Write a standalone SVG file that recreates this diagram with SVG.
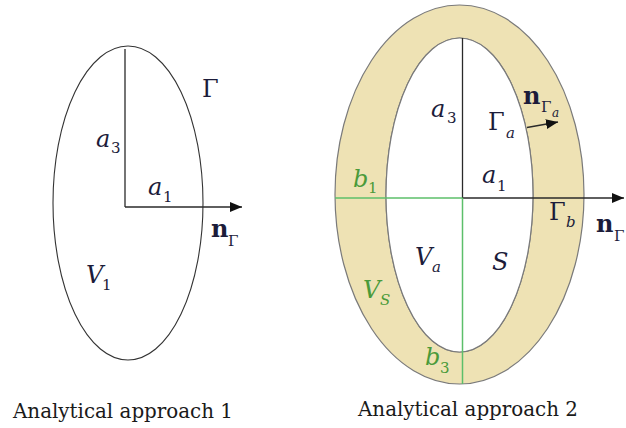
<svg xmlns="http://www.w3.org/2000/svg" width="626" height="428" viewBox="0 0 626 428">
<style>
text{font-family:'DejaVu Serif','Liberation Serif',serif}
.m{fill:#1c1c3a}
.i{font-style:italic}
.b{font-weight:bold}
.big{font-size:24px}
.sub{font-size:15px}
.ssub{font-size:12px}
.g{fill:#4a9a3a}
.cap{font-size:21px;fill:#1a1a1a}
.ax{stroke:#2a2a2a;stroke-width:1.3;fill:none}
.gl{stroke:#5cbf6a;stroke-width:1.5;fill:none}
</style>
<defs>
<marker id="ah" viewBox="0 0 12 10" refX="12" refY="5" markerWidth="12" markerHeight="10" markerUnits="userSpaceOnUse" orient="auto">
<path d="M0,0 L12,5 L0,10 Z" fill="#111"/>
</marker>
</defs>
<rect width="626" height="428" fill="#fff"/>

<g id="volume-V1">
<ellipse cx="128" cy="203" rx="75" ry="157" fill="#fff" stroke="#333" stroke-width="1.1"/>
</g>

<g id="shell-VS">
<path fill-rule="evenodd" fill="#EEE2B4" stroke="#7a7a7a" stroke-width="1.2" d="M335,194.5 a124.5,189.5 0 1,0 249,0 a124.5,189.5 0 1,0 -249,0 Z M386,195 a73.5,157 0 1,1 147,0 a73.5,157 0 1,1 -147,0 Z"/>
</g>

<g id="volume-Va">
<ellipse cx="459.5" cy="195" rx="73.5" ry="157" fill="#fff" stroke="#7a7a7a" stroke-width="1.2"/>
</g>

<g id="connectors">
<line class="ax" x1="125" y1="49" x2="125" y2="207"/>
<line class="ax" x1="125" y1="207" x2="242" y2="207" marker-end="url(#ah)"/>
<line class="ax" x1="462.5" y1="38" x2="462.5" y2="198"/>
<line class="ax" x1="462.5" y1="198" x2="624" y2="198" marker-end="url(#ah)"/>
<line class="gl" x1="335" y1="198" x2="462.5" y2="198"/>
<line class="gl" x1="462.5" y1="198" x2="462.5" y2="384"/>
<line class="ax" x1="527" y1="127.5" x2="558" y2="122" marker-end="url(#ah)"/>
</g>

<g id="labels-left">
<text class="m big" x="202" y="97">Γ</text>
<text class="m big i" x="96" y="147">a</text><text class="m sub" x="111" y="153">3</text>
<text class="m big i" x="148" y="195">a</text><text class="m sub" x="163" y="202">1</text>
<text class="m big b" x="211" y="237">n</text><text class="m sub" x="228" y="246">Γ</text>
<text class="m big i" x="86" y="283">V</text><text class="m sub" x="102" y="290">1</text>
</g>

<g id="labels-right">
<text class="m big i" x="431" y="117">a</text><text class="m sub" x="447" y="123">3</text>
<text class="m big" x="488" y="130">Γ</text><text class="m sub i" x="506" y="138">a</text>
<text class="m big b" x="523" y="104">n</text><text class="m sub" x="541" y="112">Γ</text><text class="m ssub i" x="552" y="117">a</text>
<text class="m big i" x="482" y="183">a</text><text class="m sub" x="497" y="191">1</text>
<text class="m big i g" x="353" y="187">b</text><text class="m sub g" x="368" y="193">1</text>
<text class="m big" x="549" y="220">Γ</text><text class="m sub i" x="566" y="227">b</text>
<text class="m big b" x="596" y="232">n</text><text class="m sub" x="614" y="241">Γ</text>
<text class="m big i" x="415" y="265">V</text><text class="m sub i" x="432" y="272">a</text>
<text class="m big i" x="492" y="270">S</text>
<text class="m big i g" x="363" y="298">V</text><text class="m sub i g" x="380" y="305">S</text>
<text class="m big i g" x="425" y="365">b</text><text class="m sub g" x="440" y="373">3</text>
</g>

<g id="captions">
<text class="cap" x="13" y="418" textLength="220" lengthAdjust="spacingAndGlyphs">Analytical approach 1</text>
<text class="cap" x="358" y="416" textLength="220" lengthAdjust="spacingAndGlyphs">Analytical approach 2</text>
</g>
</svg>
